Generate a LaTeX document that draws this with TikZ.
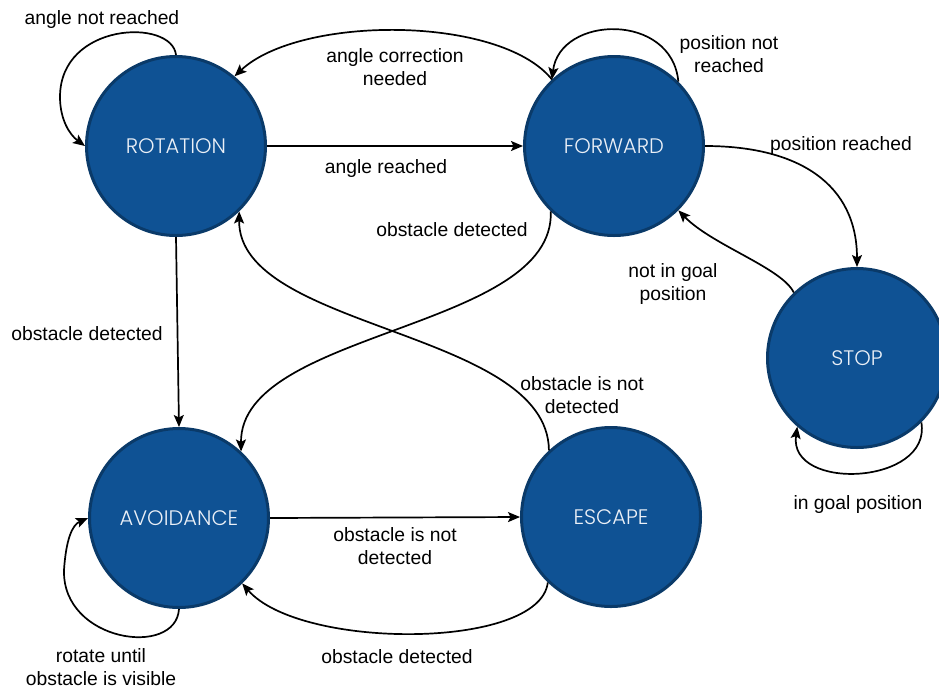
\documentclass[tikz,border=0pt]{standalone}
\usepackage{fontspec}
\setmainfont{Liberation Sans}
\newfontfamily\statefont{Poppins Light}
\usetikzlibrary{arrows.meta}
\definecolor{statefill}{RGB}{15,82,148}
\definecolor{stateline}{RGB}{10,58,105}
\definecolor{statetext}{RGB}{235,240,247}
\begin{document}
\begin{tikzpicture}[x=1pt,y=-1pt,
  state/.style={circle, fill=statefill, draw=stateline, line width=3pt, minimum size=179pt, inner sep=0pt, text=statetext, font=\statefont\fontsize{21}{24}\selectfont},
  edge/.style={line width=1.7pt, -{Stealth[length=12pt,width=10pt,inset=2.5pt]}},
  lbl/.style={font=\fontsize{19.3}{23}\selectfont, align=center, inner sep=0pt, yshift=-3pt}]
\useasboundingbox (0,0) rectangle (939,689);
\clip (0,0) rectangle (939,689);

\node[state] (rot) at (176,146) {ROTATION};
\node[state] (fwd) at (614,146) {FORWARD};
\node[state] (stop) at (857,358) {STOP};
\node[state] (avo) at (179,518) {AVOIDANCE};
\node[state] (esc) at (611,517) {ESCAPE};

\coordinate (rl) at (60,97);
\coordinate (al) at (64,570);

% ROTATION self loop
\draw[edge] (rot.90) .. controls (172,18) and (60,22) .. (rl) .. controls (60,120) and (70,135) .. (rot.180);
% FORWARD -> ROTATION
\draw[edge] (fwd.133) .. controls (500,15) and (300,15) .. (rot.50);
% FORWARD self loop
\draw[edge] (fwd.45) .. controls (672,12) and (560,15) .. (fwd.133);
% ROTATION -> FORWARD
\draw[edge] (rot.0) -- (fwd.180);
% FORWARD -> STOP
\draw[edge] (fwd.0) .. controls (800,146) and (857,185) .. (stop.90);
% STOP -> FORWARD
\draw[edge] (stop.134) .. controls (782,268) and (712,245) .. (fwd.-45);
% STOP self loop
\draw[edge] (stop.-45) .. controls (932,485) and (788,492) .. (stop.-131);
% ROTATION -> AVOIDANCE
\draw[edge] (rot.-90) -- (avo.90);
% FORWARD -> AVOIDANCE
\draw[edge] (fwd.-134) .. controls (555,330) and (240,330) .. (avo.47);
% ESCAPE -> ROTATION
\draw[edge] (esc.133) .. controls (548,330) and (238,330) .. (rot.-46);
% AVOIDANCE -> ESCAPE
\draw[edge] (avo.0) -- (esc.180);
% ESCAPE -> AVOIDANCE
\draw[edge] (esc.-134) .. controls (540,650) and (300,650) .. (avo.-46);
% AVOIDANCE self loop
\draw[edge] (avo.-90) .. controls (176,658) and (62,642) .. (al) .. controls (66,540) and (72,525) .. (avo.180);

\node[lbl] (l1) at (102,17) {angle not reached};
\node[lbl] (l2) at (395,64) {angle correction\\needed};
\node[lbl] (l3) at (386,166) {angle reached};
\node[lbl] (l4) at (729,51) {position not\\reached};
\node[lbl] (l5) at (841,143) {position reached};
\node[lbl] (l6) at (452,227) {obstacle detected};
\node[lbl] (l7) at (673,281) {not in goal\\position};
\node[lbl] (l8) at (87,331) {obstacle detected};
\node[lbl] (l9) at (582,392) {obstacle is not\\detected};
\node[lbl] (l10) at (858,501) {in goal position};
\node[lbl] (l11) at (395,543) {obstacle is not\\detected};
\node[lbl] (l12) at (397,654) {obstacle detected};
\node[lbl] (l13) at (101,664) {rotate until\\obstacle is visible};
\end{tikzpicture}
\end{document}
